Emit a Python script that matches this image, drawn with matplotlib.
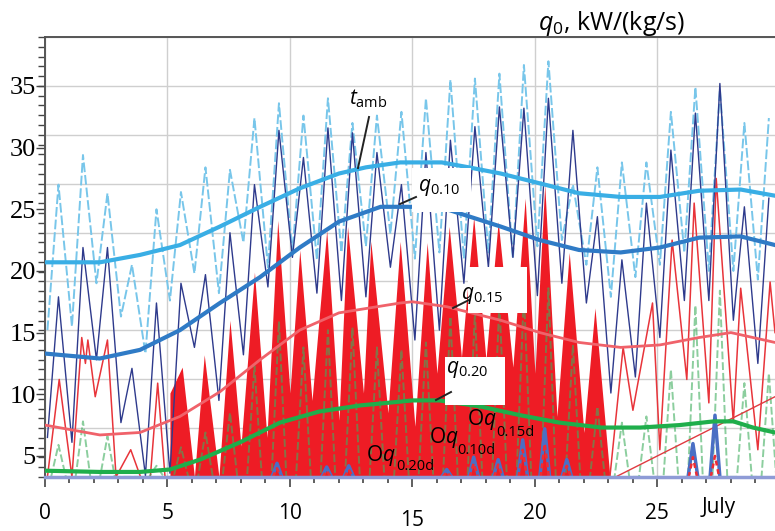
import numpy as np
import matplotlib
matplotlib.use('Agg')
import matplotlib.pyplot as plt
from matplotlib.lines import Line2D
from matplotlib.patches import Rectangle

plt.rcParams['font.family'] = ['Open Sans', 'DejaVu Sans']
plt.rcParams['mathtext.fontset'] = 'custom'
plt.rcParams['mathtext.rm'] = 'Open Sans'
plt.rcParams['mathtext.it'] = 'Open Sans:italic'

# ---- data (temperature-axis units) ----
day = np.arange(30)

# ambient temperature, daily minimum / maximum
tamb_min = [15.2, 15.5, 19.0, 16.3, 13.3, 17.6, 19.8, 18.2, 22.3, 20.3, 21.5, 20.9, 21.5, 22.0, 23.0,
            21.0, 21.5, 21.0, 21.5, 21.0, 22.0, 22.5, 20.5, 17.9, 19.5, 20.5, 21.5, 20.0, 20.0, 19.3]
tamb_max = [27.0, 29.4, 26.3, 20.5, 25.0, 26.4, 28.4, 28.2, 32.4, 33.6, 32.6, 34.0, 32.0, 32.6, 32.9,
            34.0, 35.5, 35.6, 36.0, 36.7, 37.0, 27.0, 28.4, 28.8, 28.8, 32.9, 34.9, 34.7, 32.0, 32.4]

# q0.10 instantaneous (navy thin)
navy_min = [6.5, 6.1, 12.8, 7.7, 3.4, 3.6, 13.8, 9.5, 13.2, 18.7, 21.1, 18.2, 17.6, 17.9, 20.3,
            14.4, 15.2, 19.0, 20.3, 21.1, 18.0, 19.0, 17.4, 10.1, 11.4, 14.6, 17.6, 17.6, 16.0, 12.5]
navy_max = [17.9, 21.9, 21.9, 12.1, 17.4, 19.0, 19.7, 23.1, 27.0, 31.4, 29.2, 31.6, 31.2, 29.6, 27.0,
            29.6, 30.6, 31.7, 33.3, 33.2, 34.0, 31.4, 24.4, 20.9, 25.5, 29.8, 32.8, 35.2, 25.2, 25.9]

# q0.20 instantaneous (green dashed)
green_max = [5.9, 7.8, 6.6, 3.3, 4.2, 5.7, 6.9, 8.5, 12.3, 15.9, 13.8, 15.2, 15.4, 13.8, 13.6,
             14.2, 16.3, 16.6, 17.5, 18.2, 18.6, 14.0, 9.0, 7.7, 8.2, 12.0, 17.2, 18.4, 10.9, 11.7]
green_min = [3.3] * 30

# q0.15 instantaneous (red thin), outside the filled part
red_a_days = [0.0, 0.1, 0.58, 1.1, 1.5, 1.65, 1.75, 2.05, 2.55, 2.9, 3.5, 3.9, 4.3, 4.6, 4.9, 5.1]
red_a_vals = [3.3, 3.3, 11.2, 3.3, 14.6, 12.5, 14.4, 9.8, 14.4, 3.3, 5.5, 3.3, 3.3, 10.9, 3.3, 3.3]
red_b_days = [23.06, 23.6, 24.0, 24.8, 25.1, 25.6, 26.2, 26.5, 27.1, 27.4, 28.1, 28.4, 29.1, 29.6, 29.8]
red_b_vals = [3.3, 13.8, 8.7, 17.4, 5.5, 22.5, 11.2, 25.5, 9.3, 27.5, 7.7, 18.6, 5.5, 19.1, 15.0]

# filled red area
fill_days = [5.1, 5.1, 5.6, 6.1, 6.5, 7.1, 7.55, 8.0, 8.55, 9.06, 9.5, 10.0, 10.4, 10.9, 11.5, 12.0,
             12.35, 13.0, 13.3, 14.0, 14.5, 15.1, 15.6, 16.0, 16.5, 17.0, 17.5, 18.0, 18.5, 19.1,
             19.6, 20.0, 20.4, 20.9, 21.4, 22.0, 22.45, 23.06]
fill_vals = [3.3, 10.1, 12.2, 3.3, 13.2, 3.3, 16.0, 5.8, 19.9, 6.5, 24.1, 10.1, 21.7, 9.5, 23.3, 7.9,
             23.6, 10.1, 22.4, 8.5, 22.4, 7.4, 22.3, 11.7, 23.6, 13.0, 24.4, 12.8, 24.0, 12.2,
             25.9, 11.7, 27.0, 8.2, 21.5, 6.9, 17.0, 3.3]

# small spikes near the bottom
spike_days = [9.47, 11.5, 12.4, 16.4, 17.5, 18.5, 19.5, 20.4, 21.3, 26.45, 27.35]
spike_blue = [4.4, 4.1, 4.2, 3.9, 4.9, 4.7, 6.3, 7.2, 4.7, 6.0, 8.3]
spike_red = [4.0, 3.8, 3.9, 3.7, 4.4, 4.3, 5.5, 6.0, 4.2, 4.9, 5.0]

diag_days = [23.3, 29.8]
diag_vals = [3.3, 9.8]

# smooth curves
tamb_s_days = [0, 2.24, 3.88, 5.51, 7.14, 8.78, 10.4, 12.0, 13.1, 14.5, 16.2, 17.3, 18.6, 20.2,
               21.8, 23.5, 25.1, 26.7, 28.4, 29.8]
tamb_s_vals = [20.7, 20.7, 21.3, 22.1, 23.6, 25.2, 26.7, 27.9, 28.4, 28.8, 28.8, 28.4, 27.9, 27.1,
               26.3, 26.0, 26.0, 26.5, 26.6, 26.1]
q10_days = [0, 2.24, 3.88, 5.51, 7.14, 8.78, 10.4, 12.0, 13.7, 15.0, 16.4, 18.6, 20.2, 21.8, 23.5,
            25.1, 26.7, 28.4, 29.8]
q10_vals = [13.3, 12.9, 13.6, 15.2, 17.4, 19.5, 21.9, 24.0, 25.2, 25.2, 25.0, 23.6, 22.5, 21.7, 21.5,
            21.9, 22.7, 22.8, 22.1]
q15_days = [0, 2.24, 3.88, 5.51, 7.14, 8.78, 10.4, 12.0, 14.5, 15.0, 16.4, 18.6, 20.2, 21.8, 23.5,
            25.1, 26.7, 28.0, 29.8]
q15_vals = [7.5, 6.7, 6.9, 8.2, 10.2, 12.8, 15.2, 16.6, 17.4, 17.5, 17.1, 16.0, 15.0, 14.2, 13.8,
            14.0, 14.6, 15.0, 14.2]
q20_days = [0, 2.24, 3.88, 5.1, 6.33, 7.96, 9.59, 11.2, 12.9, 14.5, 15.0, 16.1, 17.8, 19.4, 21.0,
            22.7, 24.3, 25.9, 27.3, 28.1, 28.9, 29.8]
q20_vals = [3.8, 3.7, 3.7, 3.9, 4.7, 6.1, 7.7, 8.6, 9.1, 9.4, 9.5, 9.5, 9.0, 8.3, 7.7,
            7.3, 7.3, 7.5, 7.8, 7.8, 7.3, 6.9]

t_ticks = [5, 10, 15, 20, 25, 30, 35]
x_ticks = [0, 5, 10, 15, 20, 25]
x_labels = ['0', '5', '10', '', '20', '25']

T_LOW, T_HIGH = 3.29, 38.97

# ---- figure ----
fig = plt.figure(figsize=(7.75, 5.31), dpi=100)
ax = fig.add_axes([45 / 775, 1 - 477 / 531, 1 - 45 / 775, 440 / 531])
axq = ax.twinx()
ax.set_zorder(axq.get_zorder() + 1)
ax.patch.set_visible(False)

# q axis: horizontal grid + minor ticks on left spine
axq.set_ylim(0, 45)
axq.yaxis.tick_left()
axq.set_yticks(np.arange(0, 46, 5))
axq.set_yticks(np.arange(0, 46, 1), minor=True)
axq.tick_params(axis='y', which='both', length=5, width=1, color='#444444', direction='out',
                labelleft=False, labelright=False)
axq.grid(axis='y', color='#cfcfcf', lw=1)
for s in axq.spines.values():
    s.set_visible(False)

ax.set_xlim(0, 29.8)
ax.set_ylim(T_LOW, T_HIGH)
ax.set_axisbelow(True)
ax.grid(axis='x', color='#cfcfcf', lw=1)

# oscillating series
tx = np.ravel(np.column_stack([day + 0.1, day + 0.55]))
ty = np.ravel(np.column_stack([tamb_min, tamb_max]))
ny = np.ravel(np.column_stack([navy_min, navy_max]))
gx = np.ravel(np.column_stack([day + 0.25, day + 0.55, day + 0.85]))
gy = np.ravel(np.column_stack([green_min, green_max, green_min]))

ax.fill_between(fill_days, fill_vals, T_LOW, color='#ee1c25', lw=0, zorder=1.6)
ax.plot(red_a_days, red_a_vals, color='#e8343a', lw=1.1, zorder=2.0)
ax.plot(red_b_days, red_b_vals, color='#e8343a', lw=1.1, zorder=2.0)
ax.plot(tx, ty, color='#78c6ea', lw=1.4, dashes=(5, 1.5), zorder=2.1)
ax.plot(tx, ny, color='#2e3a8c', lw=1.0, zorder=2.2)
ax.plot(gx, gy, color='#3fae5e', lw=1.4, dashes=(4, 1.5), alpha=0.6, zorder=2.3)
ax.plot(diag_days, diag_vals, color='#e03a40', lw=1.0, zorder=2.3)

for d, hb, hr in zip(spike_days, spike_blue, spike_red):
    ax.plot([d - 0.2, d, d + 0.2], [T_LOW, hb, T_LOW], color='#4a6fc4', lw=2.5, zorder=2.4)
    ax.plot([d - 0.17, d, d + 0.17], [T_LOW, hr, T_LOW], color='#ee2c34', lw=1.8,
            dashes=(2, 1.5), zorder=2.5)

ax.plot(tamb_s_days, tamb_s_vals, color='#39aee5', lw=3, zorder=3)
ax.plot(q10_days, q10_vals, color='#2f7bc6', lw=3, zorder=3)
ax.plot(q15_days, q15_vals, color='#f0626a', lw=2, zorder=3)
ax.plot(q20_days, q20_vals, color='#1fae4b', lw=3, zorder=3)

# axes styling
ax.spines['right'].set_visible(False)
ax.spines['top'].set_color('#555555')
ax.spines['top'].set_linewidth(1.4)
ax.spines['left'].set_color('#555555')
ax.spines['left'].set_linewidth(1.4)
ax.spines['bottom'].set_color('#8e9bd6')
ax.spines['bottom'].set_linewidth(2.5)

ax.set_yticks(t_ticks)
ax.set_yticklabels([str(v) for v in t_ticks], family='Liberation Serif', fontsize=19)
ax.tick_params(axis='y', which='major', length=6.5, width=1, color='#444444', pad=0)

ax.set_xticks(x_ticks)
ax.set_xticklabels(x_labels, fontsize=15)
ax.set_xticks(np.arange(0, 30, 1), minor=True)
ax.tick_params(axis='x', which='major', length=7.5, width=1.2, color='#444444', pad=11)
ax.tick_params(axis='x', which='minor', length=4.5, width=1.2, color='#444444')


def fx(x):
    return x / 775


def fy(y):
    return 1 - y / 531


fig.text(fx(412), fy(520), '15', fontsize=15, ha='center', va='center')
fig.text(fx(719), fy(507), 'July', fontsize=15, ha='center', va='center')
fig.text(fx(538), fy(23), r'$q_0$, kW/(kg/s)', fontsize=18, ha='left', va='center')

# label boxes
for x0, y0, x1, y1 in [(412, 168, 471, 212), (468, 267, 527, 313), (445, 357, 505, 405)]:
    fig.patches.append(Rectangle((fx(x0), fy(y1)), fx(x1) - fx(x0), fy(y0) - fy(y1),
                                 transform=fig.transFigure, facecolor='white',
                                 edgecolor='none', zorder=5))

for (xa, ya), (xb, yb) in [((369, 117), (358, 168)), ((400, 204), (416, 197)),
                           ((453, 308), (469, 300)), ((436, 400), (451, 392))]:
    fig.lines.append(Line2D([fx(xa), fx(xb)], [fy(ya), fy(yb)], transform=fig.transFigure,
                            color='#222222', lw=1.4, zorder=6))

fig.text(fx(349), fy(99), r'$t_{\mathrm{amb}}$', fontsize=15, ha='left', va='center', zorder=7)
fig.text(fx(418), fy(188), r'$q_{0.10}$', fontsize=15, ha='left', va='center', zorder=7)
fig.text(fx(461), fy(295), r'$q_{0.15}$', fontsize=15, ha='left', va='center', zorder=7)
fig.text(fx(446), fy(370), r'$q_{0.20}$', fontsize=15, ha='left', va='center', zorder=7)

for (xo, yo), (xs, ys), sub in [((366, 455), (396, 467), '0.20d'), ((429, 437), (457, 450), '0.10d'),
                                ((467, 420), (496, 432), '0.15d')]:
    fig.text(fx(xo), fy(yo), r'$\mathrm{O}q$', fontsize=15, ha='left', va='center', zorder=7)
    fig.text(fx(xs), fy(ys), sub, fontsize=10.5, ha='left', va='center', zorder=7)

fig.savefig('out.png', dpi=100)
